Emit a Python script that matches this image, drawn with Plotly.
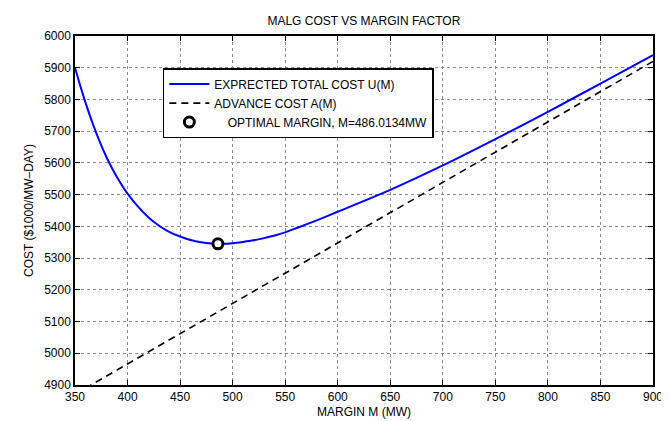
import plotly.graph_objects as go

# Data
margin_u = [350, 355, 360, 365, 370, 375, 380, 385, 390, 395, 400, 410, 420, 430, 440, 450,
            460, 470, 480, 486, 490, 500, 510, 520, 530, 540, 550, 561, 580, 600, 650, 700,
            750, 800, 850, 900]
cost_u = [5900, 5843, 5790, 5741, 5696, 5655, 5618, 5585, 5555, 5528, 5503, 5462, 5428, 5402,
          5382, 5368, 5357, 5350, 5346, 5345, 5345, 5347, 5351, 5356, 5363, 5371, 5381, 5395,
          5419, 5446, 5515, 5592, 5675, 5761, 5850, 5940]
margin_a = [350, 900]
cost_a = [4871, 5920]
opt_margin = [486.0134]
opt_cost = [5345]

x_ticks = [350, 400, 450, 500, 550, 600, 650, 700, 750, 800, 850, 900]
y_ticks = [4900, 5000, 5100, 5200, 5300, 5400, 5500, 5600, 5700, 5800, 5900, 6000]

FONT = "Liberation Sans, Arial, Helvetica, sans-serif"

fig = go.Figure()
fig.add_trace(go.Scatter(x=margin_u, y=cost_u, mode="lines",
                         line=dict(color="#0000ff", width=2, shape="spline", smoothing=0.6),
                         name="EXPRECTED TOTAL COST U(M)"))
fig.add_trace(go.Scatter(x=margin_a, y=cost_a, mode="lines",
                         line=dict(color="black", width=1.6, dash="7px,5px"),
                         name="ADVANCE COST A(M)"))
fig.add_trace(go.Scatter(x=opt_margin, y=opt_cost, mode="markers",
                         marker=dict(symbol="circle", size=10, color="white", line=dict(color="black", width=3)),
                         name="\u00a0\u00a0\u00a0\u00a0OPTIMAL MARGIN, M=486.0134MW"))

axis_common = dict(showline=True, linecolor="black", linewidth=1.5, mirror="ticks", ticks="inside", ticklen=5,
                   tickcolor="black", showgrid=True, gridcolor="#888888", griddash="dot", gridwidth=1,
                   zeroline=False, tickfont=dict(family=FONT, size=12, color="black"))

fig.update_xaxes(range=[350, 900], tickvals=x_ticks,
                 title=dict(text="MARGIN M (MW)", font=dict(family=FONT, size=12, color="black"), standoff=4),
                 **axis_common)
fig.update_yaxes(range=[4900, 6000], tickvals=y_ticks,
                 title=dict(text="COST ($1000/MW\u2013DAY)", font=dict(family=FONT, size=12, color="black"), standoff=8),
                 **axis_common)

fig.update_layout(
    width=669, height=421,
    margin=dict(l=67, r=24, t=28, b=36),
    paper_bgcolor="white", plot_bgcolor="white",
    font=dict(family=FONT, size=12, color="black"),
    title=dict(text="MALG COST VS MARGIN FACTOR", x=0.532, xanchor="center", y=0.97, yanchor="middle",
               font=dict(family=FONT, size=12, color="black")),
    legend=dict(x=0.152, y=0.908, xanchor="left", yanchor="top", bgcolor="white", bordercolor="black",
                borderwidth=1.5, font=dict(family=FONT, size=12, color="black"), tracegroupgap=0, itemwidth=40),
    showlegend=True,
)

fig.write_html("out.html")
